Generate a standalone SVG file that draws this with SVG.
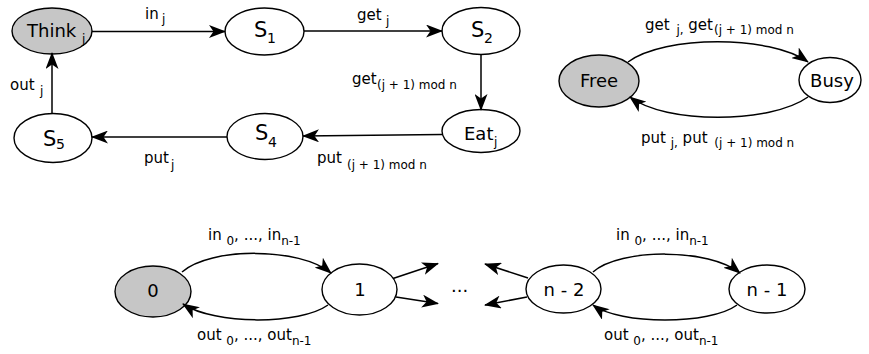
<svg xmlns="http://www.w3.org/2000/svg" width="869" height="354" viewBox="0 0 869 354">
  <style>
    .node { fill: #ffffff; stroke: #000000; stroke-width: 1.4; }
    .start { fill: #c6c6c6; }
    .edge { fill: none; stroke: #000000; stroke-width: 1.5; marker-end: url(#arrow); }
    text { font-family: "DejaVu Sans", "Liberation Sans", sans-serif; fill: #000000; }
    .nt { font-size: 18px; }
    .big { font-size: 21px; }
    .lab { font-size: 15px; }
    .sub { font-size: 12px; }
    .nsub { font-size: 14px; }
  </style>
  <defs>
    <marker id="arrow" markerUnits="userSpaceOnUse" viewBox="0 0 17 13" markerWidth="17" markerHeight="13" refX="16" refY="6.5" orient="auto">
      <path d="M0,0 L17,6.5 L0,13 L4.5,6.5 Z" fill="#000000"/>
    </marker>
  </defs>

  <!-- philosopher j: state cycle -->
  <g id="think">
    <ellipse class="node start" cx="52" cy="31" rx="40" ry="23"/>
    <text class="nt" x="27" y="37">Think</text>
    <text class="sub" x="82" y="43">j</text>
  </g>
  <g id="s1">
    <ellipse class="node" cx="264.5" cy="31.5" rx="39.5" ry="23.5"/>
    <text class="big" x="254" y="37">S</text>
    <text class="nsub" x="267" y="43">1</text>
  </g>
  <g id="s2">
    <ellipse class="node" cx="481" cy="31" rx="39" ry="23.5"/>
    <text class="big" x="471" y="37">S</text>
    <text class="nsub" x="484" y="43">2</text>
  </g>
  <g id="eat">
    <ellipse class="node" cx="481" cy="131" rx="39" ry="21.5"/>
    <text class="nt" x="464" y="140">Eat</text>
    <text class="sub" x="494" y="146">j</text>
  </g>
  <g id="s4">
    <ellipse class="node" cx="265" cy="136.5" rx="38" ry="23"/>
    <text class="big" x="255" y="140">S</text>
    <text class="nsub" x="268" y="147">4</text>
  </g>
  <g id="s5">
    <ellipse class="node" cx="53" cy="138" rx="39" ry="24.5"/>
    <text class="big" x="43" y="146">S</text>
    <text class="nsub" x="56" y="149">5</text>
  </g>

  <!-- fork: free / busy -->
  <g id="free">
    <ellipse class="node start" cx="599" cy="81" rx="40" ry="26"/>
    <text class="nt" x="599" y="87" text-anchor="middle">Free</text>
  </g>
  <g id="busy">
    <ellipse class="node" cx="830" cy="80" rx="31" ry="22.5"/>
    <text class="nt" x="832" y="87" text-anchor="middle">Busy</text>
  </g>

  <!-- counter of philosophers -->
  <g id="c0">
    <ellipse class="node start" cx="153" cy="291.5" rx="38" ry="25.5"/>
    <text class="nt" x="153" y="297" text-anchor="middle">0</text>
  </g>
  <g id="c1">
    <ellipse class="node" cx="359.5" cy="289.5" rx="37.5" ry="25.5"/>
    <text class="nt" x="360" y="296" text-anchor="middle">1</text>
  </g>
  <g id="cn2">
    <ellipse class="node" cx="563.5" cy="289" rx="37.5" ry="24"/>
    <text class="nt" x="564" y="296" text-anchor="middle">n - 2</text>
  </g>
  <g id="cn1">
    <ellipse class="node" cx="767" cy="289" rx="38" ry="24"/>
    <text class="nt" x="767" y="296" text-anchor="middle">n - 1</text>
  </g>
  <text class="nt" x="451" y="292">...</text>

  <g id="connectors">
    <path class="edge" d="M92,31.5 L225,31.5"/>
    <path class="edge" d="M304,31 L442,31"/>
    <path class="edge" d="M481,54.5 L481,110"/>
    <path class="edge" d="M442,134.5 L303,136"/>
    <path class="edge" d="M227,137 L92,137"/>
    <path class="edge" d="M52,114 L52,53"/>

    <path class="edge" d="M628,62 C665,35 770,35 808,62"/>
    <path class="edge" d="M808,97 C770,124 665,124 630,97"/>

    <path class="edge" d="M182,272 C210,247 300,247 331,273"/>
    <path class="edge" d="M328,305 C300,325 215,325 183,304"/>
    <path class="edge" d="M393,278.5 L438,263.5"/>
    <path class="edge" d="M396,297 L438,303.5"/>
    <path class="edge" d="M528,278 L485,264"/>
    <path class="edge" d="M527,297 L485,305"/>
    <path class="edge" d="M593,272 C620,248 710,248 740,273"/>
    <path class="edge" d="M737,305 C710,325 620,325 593,305"/>
  </g>

  <!-- transition labels -->
  <g id="labels">
    <text class="lab" x="145" y="19">in</text>
    <text class="sub" x="162" y="23">j</text>

    <text class="lab" x="357" y="20">get</text>
    <text class="sub" x="386" y="25">j</text>

    <text class="lab" x="352" y="84">get</text>
    <text class="sub" x="377" y="89">(j + 1) mod n</text>

    <text class="lab" x="317" y="163">put</text>
    <text class="sub" x="347" y="169">(j + 1) mod n</text>

    <text class="lab" x="144" y="163">put</text>
    <text class="sub" x="171" y="169">j</text>

    <text class="lab" x="10" y="90">out</text>
    <text class="sub" x="40" y="95">j</text>

    <text class="lab" x="645" y="30">get <tspan class="sub" dx="2" dy="4">j,</tspan><tspan dy="-4"> get</tspan><tspan class="sub" dx="1" dy="4">(j + 1) mod n</tspan></text>
    <text class="lab" x="641" y="143">put <tspan class="sub" dy="4">j,</tspan><tspan dy="-4"> put </tspan><tspan class="sub" dx="2" dy="4">(j + 1) mod n</tspan></text>

    <text class="lab" x="208" y="240">in <tspan class="sub" dy="5">0</tspan><tspan dy="-5">, ..., in</tspan><tspan class="sub" dy="5">n-1</tspan></text>
    <text class="lab" x="197" y="340">out <tspan class="sub" dy="5">0</tspan><tspan dy="-5">, ..., out</tspan><tspan class="sub" dy="5">n-1</tspan></text>
    <text class="lab" x="616" y="240">in <tspan class="sub" dy="5">0</tspan><tspan dy="-5">, ..., in</tspan><tspan class="sub" dy="5">n-1</tspan></text>
    <text class="lab" x="604" y="340">out <tspan class="sub" dy="5">0</tspan><tspan dy="-5">, ..., out</tspan><tspan class="sub" dy="5">n-1</tspan></text>
  </g>
</svg>
